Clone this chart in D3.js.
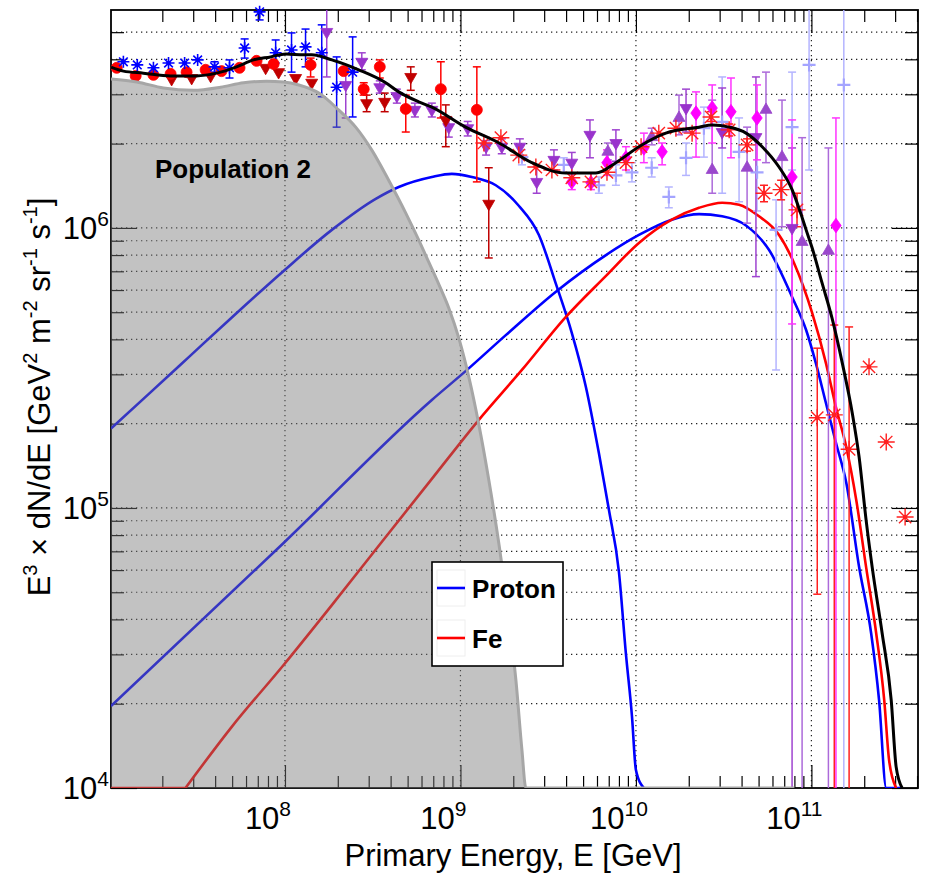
<!DOCTYPE html>
<html><head><meta charset="utf-8">
<script src="https://cdn.jsdelivr.net/npm/d3@7"></script>
<style>
body{margin:0;background:#fff}
svg{display:block}
text{font-family:"Liberation Sans",Arial,Helvetica,sans-serif;white-space:pre}
</style>
</head><body>
<svg id="chart" width="925" height="874"></svg>
<script>
// ---------- model curves (energy in GeV, E^3 dN/dE) ----------
const pop2E = [1.02e7,1.43e7,2.03e7,3.01e7,4.30e7,5.81e7,7.85e7,9.82e7,1.20e8,1.56e8,2.02e8,2.53e8,3.12e8,3.90e8,4.88e8,5.78e8,6.59e8,7.52e8,8.58e8,9.79e8,1.12e9,1.27e9,1.45e9,1.66e9,1.89e9,2.07e9,2.24e9,2.36e9,2.40e9,8.0e10];
const pop2V = [3.40e6,3.32e6,3.16e6,3.10e6,3.18e6,3.30e6,3.34e6,3.32e6,3.24e6,3.03e6,2.64e6,2.29e6,1.90e6,1.48e6,1.13e6,9.06e5,7.56e5,6.30e5,5.18e5,4.04e5,2.91e5,2.00e5,1.26e5,7.37e4,3.98e4,2.43e4,1.37e4,1.0e4,5e3,5e3];

const protonAE = [1.02e7,1.67e7,2.82e7,4.96e7,9.82e7,1.85e8,3.29e8,4.45e8,6.87e8,8.93e8,1.16e9,1.59e9,2.15e9,2.80e9,3.50e9,4.31e9,5.19e9,6.15e9,7.02e9,8.00e9,8.77e9,9.49e9,1.00e10,1.11e10];
const protonAV = [1.92e5,2.55e5,3.45e5,4.78e5,7.02e5,9.84e5,1.27e6,1.40e6,1.52e6,1.56e6,1.52e6,1.42e6,1.20e6,9.44e5,6.31e5,4.22e5,2.70e5,1.57e5,9.83e4,5.91e4,3.01e4,1.81e4,1.16e4,1.0e4];

const protonBE = [1.02e7,9.82e7,6.87e8,1.07e9,1.82e9,3.50e9,6.75e9,1.04e10,1.60e10,2.29e10,3.10e10,4.24e10,5.74e10,7.76e10,9.33e10,1.06e11,1.21e11,1.38e11,1.58e11,1.87e11,2.19e11,2.43e11,2.67e11,2.72e11,3.25e11];
const protonBV = [1.96e4,7.50e4,2.43e5,3.08e5,4.15e5,5.92e5,8.00e5,9.44e5,1.07e6,1.12e6,1.10e6,1.02e6,8.34e5,5.67e5,4.32e5,3.29e5,2.37e5,1.71e5,1.23e5,6.15e4,3.57e4,2.06e4,1.0e4,5e3,5e3];

const ironE = [1.02e7,2.65e7,2.71e7,4.96e7,9.82e7,1.85e8,3.56e8,6.87e8,1.27e9,2.24e9,3.99e9,6.75e9,1.04e10,1.60e10,2.29e10,3.10e10,3.87e10,5.03e10,6.54e10,7.96e10,1.01e11,1.21e11,1.38e11,1.58e11,1.80e11,2.05e11,2.34e11,2.60e11,2.77e11,3.04e11];
const ironV = [5e3,5e3,1.0e4,1.65e4,2.75e4,4.50e4,7.56e4,1.27e5,2.06e5,3.11e5,4.81e5,6.74e5,8.84e5,1.07e6,1.18e6,1.23e6,1.21e6,1.10e6,9.44e5,7.50e5,4.97e5,3.29e5,2.29e5,1.65e5,1.07e5,6.15e4,3.57e4,2.06e4,1.26e4,1.0e4];

const totalE = [1.02e7,1.20e7,1.56e7,2.23e7,3.13e7,4.08e7,5.30e7,6.62e7,8.28e7,1.01e8,1.28e8,1.42e8,1.85e8,2.63e8,3.75e8,4.45e8,5.78e8,6.87e8,1.07e9,1.66e9,2.55e9,3.99e9,5.92e9,7.69e9,1.04e10,1.48e10,2.29e10,2.72e10,3.40e10,4.24e10,5.24e10,6.54e10,7.76e10,8.85e10,9.33e10,1.01e11,1.15e11,1.31e11,1.50e11,1.71e11,1.87e11,2.05e11,2.22e11,2.53e11,2.85e11,3.04e11,3.29e11];
const totalV = [3.75e6,3.63e6,3.57e6,3.49e6,3.49e6,3.57e6,3.76e6,3.98e6,4.08e6,4.18e6,4.15e6,4.15e6,3.98e6,3.67e6,3.30e6,3.06e6,2.82e6,2.70e6,2.29e6,2.01e6,1.71e6,1.57e6,1.57e6,1.71e6,1.95e6,2.18e6,2.29e6,2.33e6,2.29e6,2.18e6,1.95e6,1.65e6,1.37e6,1.09e6,9.84e5,8.48e5,6.36e5,4.77e5,3.29e5,2.18e5,1.52e5,9.05e4,6.15e4,3.57e4,2.06e4,1.19e4,1.0e4];

// ---------- measurements: energy, value, upper and lower error ----------
const blueStarE  = [1.20e7,1.44e7,1.78e7,2.17e7,2.68e7,3.18e7,3.97e7,4.83e7,5.89e7,7.17e7,8.85e7,1.09e8,1.31e8,1.62e8,1.97e8,2.43e8];
const blueStarV  = [3.92e6,3.82e6,3.73e6,3.88e6,3.88e6,3.98e6,3.76e6,3.73e6,4.39e6,5.91e6,4.22e6,4.32e6,4.43e6,4.22e6,3.18e6,3.60e6];
const blueStarHi = [3.92e6,3.82e6,3.73e6,3.88e6,3.88e6,3.98e6,3.92e6,3.98e6,4.73e6,6.3e6,4.69e6,4.97e6,5.13e6,5.31e6,4.08e6,4.81e6];
const blueStarLo = [3.92e6,3.82e6,3.73e6,3.88e6,3.88e6,3.98e6,3.60e6,3.43e6,4.04e6,5.53e6,3.88e6,3.60e6,3.76e6,2.94e6,2.29e6,2.49e6];

const redDotE  = [1.10e7,1.41e7,1.78e7,2.23e7,2.75e7,3.53e7,4.35e7,5.51e7,6.89e7,8.62e7,1.40e8,2.16e8,2.81e8,3.47e8,4.88e8,7.73e8,1.24e9];
const redDotV  = [3.73e6,3.49e6,3.52e6,3.55e6,3.60e6,3.67e6,3.63e6,3.73e6,3.95e6,3.85e6,3.82e6,3.63e6,3.13e6,3.76e6,2.66e6,3.13e6,2.64e6];
const redDotHi = [3.73e6,3.49e6,3.52e6,3.55e6,3.60e6,3.67e6,3.63e6,3.73e6,3.95e6,3.85e6,4.04e6,3.63e6,3.30e6,3.98e6,2.98e6,3.92e6,3.76e6];
const redDotLo = [3.73e6,3.49e6,3.52e6,3.55e6,3.60e6,3.67e6,3.63e6,3.73e6,3.95e6,3.85e6,3.46e6,3.63e6,2.98e6,3.43e6,2.20e6,2.47e6,1.46e6];

const darkTriE  = [2.26e7,2.94e7,3.77e7,7.76e7,9.20e7,1.15e8,1.42e8,2.92e8,3.70e8,5.21e8,8.25e8,1.45e9];
const darkTriV  = [3.40e6,3.43e6,3.49e6,3.73e6,3.60e6,3.43e6,3.30e6,2.79e6,2.82e6,3.46e6,2.43e6,1.22e6];
const darkTriHi = [3.40e6,3.43e6,3.49e6,3.73e6,3.60e6,3.43e6,3.30e6,2.98e6,3.03e6,3.76e6,2.75e6,1.64e6];
const darkTriLo = [3.40e6,3.43e6,3.49e6,3.73e6,3.60e6,3.43e6,3.30e6,2.60e6,2.60e6,3.10e6,1.95e6,7.81e5];

const violetDownE  = [1.73e8,2.22e8,2.74e8,3.47e8,4.34e8,5.50e8,6.87e8,8.58e8,1.10e9,1.40e9,1.72e9,2.18e9,2.72e9,3.41e9,4.31e9,5.47e9,7.69e9,1.93e10,3.10e10,4.83e10,7.76e10];
const violetDownV  = [5.01e6,3.24e6,3.92e6,3.18e6,2.96e6,2.64e6,2.64e6,2.29e6,2.27e6,1.95e6,1.95e6,1.95e6,1.46e6,1.75e6,1.71e6,2.15e6,2.01e6,2.68e6,2.20e6,2.11e6,1.00e6];
const violetDownHi = [6.5e6,3.76e6,4.22e6,3.35e6,3.13e6,2.79e6,2.79e6,2.47e6,2.40e6,2.05e6,2.08e6,2.08e6,1.65e6,1.90e6,1.86e6,2.43e6,2.24e6,3.13e6,3.16e6,3.46e6,1.93e6];
const violetDownLo = [3.46e6,2.47e6,3.67e6,3.03e6,2.79e6,2.49e6,2.49e6,2.11e6,2.13e6,1.82e6,1.84e6,1.82e6,1.33e6,1.61e6,1.56e6,1.78e6,1.73e6,2.20e6,1.93e6,6.7e5,5e3];

const violetUpE  = [6.92e9,1.23e10,1.76e10,2.72e10,4.30e10,5.51e10,6.80e10,8.85e10,1.25e11];
const violetUpV  = [1.87e6,2.11e6,2.47e6,1.61e6,1.64e6,2.64e6,1.79e6,8.91e5,8.28e5];
const violetUpHi = [2.01e6,2.27e6,2.98e6,2.86e6,2.29e6,3.60e6,2.86e6,2.10e6,1.93e6];
const violetUpLo = [1.75e6,1.98e6,2.15e6,1.33e6,1.04e6,1.71e6,1.01e6,5e3,5e3];

const magentaE  = [4.31e9,5.54e9,6.84e9,8.77e9,1.11e10,1.41e10,2.20e10,2.72e10,3.48e10,4.90e10,7.76e10,1.38e11];
const magentaV  = [1.46e6,1.45e6,1.71e6,1.78e6,1.93e6,1.87e6,2.57e6,2.68e6,2.60e6,2.47e6,1.52e6,1.02e6];
const magentaHi = [1.57e6,1.57e6,1.90e6,1.95e6,2.18e6,2.01e6,3.06e6,3.24e6,3.43e6,3.24e6,2.43e6,2.47e6];
const magentaLo = [1.37e6,1.37e6,1.54e6,1.61e6,1.71e6,1.68e6,1.79e6,2.01e6,1.78e6,1.75e6,4.54e5,5e3];

const lilacE  = [2.24e9,3.88e9,6.15e9,7.69e9,9.49e9,1.23e10,1.54e10,1.93e10,2.44e10,3.10e10,3.87e10,4.90e10,6.29e10,7.76e10,9.70e10,1.53e11];
const lilacV  = [1.79e6,1.68e6,1.42e6,1.54e6,1.58e6,1.64e6,1.29e6,1.78e6,2.27e6,2.39e6,1.87e6,1.58e6,9.84e5,2.29e6,3.82e6,3.24e6];
const lilacHi = [1.90e6,1.78e6,1.52e6,1.68e6,1.71e6,1.78e6,1.40e6,2.01e6,2.70e6,3.46e6,2.47e6,1.98e6,1.26e6,3.60e6,7e6,7e6];
const lilacLo = [1.68e6,1.58e6,1.33e6,1.42e6,1.46e6,1.52e6,1.18e6,1.54e6,1.79e6,1.33e6,1.24e6,1.15e6,3.11e5,1.61e6,1.61e6,5e3];

const redStarE  = [1.36e9,1.70e9,2.15e9,2.69e9,3.32e9,4.31e9,5.54e9,6.84e9,8.77e9,1.07e10,1.35e10,1.69e10,2.09e10,2.68e10,3.40e10,4.30e10,5.37e10,6.72e10,8.28e10,1.08e11,1.35e11,1.64e11,2.13e11,2.67e11,3.42e11];
const redStarV  = [2.01e6,2.10e6,1.82e6,1.65e6,1.61e6,1.51e6,1.46e6,1.58e6,1.71e6,1.95e6,2.18e6,2.27e6,2.18e6,2.49e6,2.24e6,1.98e6,1.33e6,1.37e6,1.16e6,2.10e5,2.15e5,1.62e5,3.19e5,1.72e5,9.28e4];
const redStarHi = [2.01e6,2.10e6,1.82e6,1.65e6,1.61e6,1.51e6,1.46e6,1.58e6,1.71e6,1.95e6,2.18e6,2.27e6,2.18e6,2.60e6,2.35e6,2.08e6,1.42e6,1.48e6,1.33e6,3.72e5,4.50e5,4.43e5,3.19e5,1.72e5,9.28e4];
const redStarLo = [2.01e6,2.10e6,1.82e6,1.65e6,1.61e6,1.51e6,1.46e6,1.58e6,1.71e6,1.95e6,2.18e6,2.27e6,2.18e6,2.40e6,2.13e6,1.88e6,1.24e6,1.26e6,1.01e6,4.92e4,5e3,5e3,3.19e5,1.72e5,9.28e4];

// ---------- axes ----------
const xMajorTicks = [1e8,1e9,1e10,1e11];
const yMajorTicks = [1e4,1e5,1e6];
const legendLabels = ["Proton","Fe"];

const svg = d3.select("#chart");
const L = 111, R = 918, T = 10, B = 788;
const x = d3.scaleLog().domain([1.02e7, 4.05e11]).range([L, R]);
const y = d3.scaleLog().domain([1e4, 6e6]).range([B, T]).clamp(true);

const xMinor = [], yMinor = [];
for (let k = 7; k <= 11; k++) for (let m = 2; m <= 9; m++) {
  const v = m * Math.pow(10, k);
  if (v > x.domain()[0] && v < x.domain()[1]) xMinor.push(v);
}
for (let k = 4; k <= 6; k++) for (let m = 2; m <= 9; m++) {
  const v = m * Math.pow(10, k);
  if (v < y.domain()[1]) yMinor.push(v);
}

const defs = svg.append("defs");
defs.append("clipPath").attr("id", "plotclip")
  .append("rect").attr("x", L).attr("y", T).attr("width", R - L).attr("height", B - T);

// dotted grid
const grid = svg.append("g").attr("stroke", "#222").attr("stroke-width", 1.2).attr("stroke-dasharray", "1.3 3.7");
grid.selectAll("line.h").data(yMinor.concat(yMajorTicks.slice(1))).join("line")
  .attr("x1", L).attr("x2", R).attr("y1", d => y(d)).attr("y2", d => y(d));
grid.selectAll("line.v").data(xMajorTicks).join("line")
  .attr("y1", T).attr("y2", B).attr("x1", d => x(d)).attr("x2", d => x(d));

// tick marks on all four sides
function ticks(axis, transform) {
  svg.append("g").attr("transform", transform).call(axis)
    .call(g => g.select(".domain").remove())
    .call(g => g.selectAll("text").remove())
    .call(g => g.selectAll("line").attr("stroke", "#000").attr("stroke-width", 1.2));
}
ticks(d3.axisBottom(x).tickValues(xMinor).tickSize(-12), `translate(0,${B})`);
ticks(d3.axisBottom(x).tickValues(xMajorTicks).tickSize(-23), `translate(0,${B})`);
ticks(d3.axisTop(x).tickValues(xMinor).tickSize(-12), `translate(0,${T})`);
ticks(d3.axisTop(x).tickValues(xMajorTicks).tickSize(-23), `translate(0,${T})`);
ticks(d3.axisLeft(y).tickValues(yMinor).tickSize(-13), `translate(${L},0)`);
ticks(d3.axisLeft(y).tickValues(yMajorTicks).tickSize(-26), `translate(${L},0)`);
ticks(d3.axisRight(y).tickValues(yMinor).tickSize(-13), `translate(${R},0)`);
ticks(d3.axisRight(y).tickValues(yMajorTicks).tickSize(-26), `translate(${R},0)`);

svg.append("rect").attr("x", L).attr("y", T).attr("width", R - L).attr("height", B - T)
  .attr("fill", "none").attr("stroke", "#000").attr("stroke-width", 1.8);

// ---------- model curves ----------
const zip = (E, V) => E.map((e, i) => [e, V[i]]);
const line = d3.line().x(d => x(d[0])).y(d => y(d[1])).curve(d3.curveMonotoneX);
const straight = d3.line().x(d => x(d[0])).y(d => y(d[1]));
const plot = svg.append("g").attr("clip-path", "url(#plotclip)");

plot.append("path").attr("d", line(zip(protonAE, protonAV))).attr("fill", "none").attr("stroke", "#0000ff").attr("stroke-width", 2.6);
plot.append("path").attr("d", line(zip(protonBE, protonBV))).attr("fill", "none").attr("stroke", "#0000ff").attr("stroke-width", 2.6);
// iron: flat underflow along the axis, then the power-law rise and cutoff
const iron = zip(ironE, ironV);
plot.append("path").attr("d", straight(iron.slice(0, 3)) + line(iron.slice(2)).replace(/^M/, "L"))
  .attr("fill", "none").attr("stroke", "#ff0000").attr("stroke-width", 2.6);

// ---------- measurements ----------
const sym = {
  star: s => { const a = s * 0.72; return `M${-s},0H${s}M0,${-s}V${s}M${-a},${-a}L${a},${a}M${-a},${a}L${a},${-a}`; },
  plus: s => `M${-s},0H${s}M0,${-s}V${s}`,
  tdown: s => `M${-s},${-s * 0.58}L${s},${-s * 0.58}L0,${s * 1.15}Z`,
  tup: s => `M${-s},${s * 0.58}L${s},${s * 0.58}L0,${-s * 1.15}Z`,
  diamond: s => `M0,${-s * 1.4}L${s},0L0,${s * 1.4}L${-s},0Z`,
  circle: s => `M${-s},0A${s},${s} 0 1,0 ${s},0A${s},${s} 0 1,0 ${-s},0Z`
};
const seriesTable = [
  {E: lilacE, V: lilacV, hi: lilacHi, lo: lilacLo, shape: "plus", size: 6.5, color: "#a4a4ff", bar: "#b4b4ff", stroke: 2.2},
  {E: violetUpE, V: violetUpV, hi: violetUpHi, lo: violetUpLo, shape: "tup", size: 6, color: "#9a48cc", bar: "#ac6ada"},
  {E: violetDownE, V: violetDownV, hi: violetDownHi, lo: violetDownLo, shape: "tdown", size: 6, color: "#9933cc", bar: "#9f44d0"},
  {E: magentaE, V: magentaV, hi: magentaHi, lo: magentaLo, shape: "diamond", size: 5.2, color: "#ff00ff", bar: "#ff33ff"},
  {E: darkTriE, V: darkTriV, hi: darkTriHi, lo: darkTriLo, shape: "tdown", size: 6, color: "#c00000", bar: "#c00000"},
  {E: redDotE, V: redDotV, hi: redDotHi, lo: redDotLo, shape: "circle", size: 5.5, color: "#ff0000", bar: "#ff0000"},
  {E: blueStarE, V: blueStarV, hi: blueStarHi, lo: blueStarLo, shape: "star", size: 6, color: "#0000ff", bar: "#0000ff", stroke: 1.6, dot: 2.3},
  {E: redStarE, V: redStarV, hi: redStarHi, lo: redStarLo, shape: "star", size: 8.5, color: "#ff2020", bar: "#ff2020", stroke: 1.4, dot: 2.3}
];

const bars = svg.append("g").attr("clip-path", "url(#plotclip)");
const marks = svg.append("g");
seriesTable.forEach(s => {
  const pts = s.E.map((e, i) => ({e, v: s.V[i], hi: s.hi[i], lo: s.lo[i]}));
  const withBar = pts.filter(p => Math.abs(y(p.lo) - y(p.hi)) > 3);
  const g = bars.append("g").attr("stroke", s.bar).attr("stroke-width", 1.5);
  g.selectAll("line.err").data(withBar).join("line")
    .attr("x1", p => x(p.e)).attr("x2", p => x(p.e))
    .attr("y1", p => y(p.hi)).attr("y2", p => y(p.lo));
  g.selectAll("line.cap-hi").data(withBar.filter(p => p.hi < y.domain()[1])).join("line")
    .attr("x1", p => x(p.e) - 4).attr("x2", p => x(p.e) + 4)
    .attr("y1", p => y(p.hi)).attr("y2", p => y(p.hi));
  g.selectAll("line.cap-lo").data(withBar.filter(p => p.lo > y.domain()[0])).join("line")
    .attr("x1", p => x(p.e) - 4).attr("x2", p => x(p.e) + 4)
    .attr("y1", p => y(p.lo)).attr("y2", p => y(p.lo));

  const open = s.shape === "star" || s.shape === "plus";
  const m = marks.append("g");
  m.selectAll("path").data(pts).join("path")
    .attr("transform", p => `translate(${x(p.e)},${y(p.v)})`)
    .attr("d", sym[s.shape](s.size))
    .attr("fill", open ? "none" : s.color)
    .attr("stroke", s.color)
    .attr("stroke-width", open ? (s.stroke || 1.5) : 0.8);
  if (s.dot) {
    m.selectAll("circle").data(pts).join("circle")
      .attr("cx", p => x(p.e)).attr("cy", p => y(p.v)).attr("r", s.dot).attr("fill", s.color);
  }
});

// ---------- population 2 component (translucent grey area over the curves) ----------
const pop2 = zip(pop2E, pop2V);
const area = d3.area().x(d => x(d[0])).y0(B).y1(d => y(d[1])).curve(d3.curveMonotoneX);
svg.append("g").attr("clip-path", "url(#plotclip)")
  .append("path").attr("d", area(pop2)).attr("fill", "#777").attr("fill-opacity", 0.45);
svg.append("g").attr("clip-path", "url(#plotclip)")
  .append("path").attr("d", line(pop2)).attr("fill", "none").attr("stroke", "#a6a6a6").attr("stroke-width", 3);

// total flux
svg.append("g").attr("clip-path", "url(#plotclip)")
  .append("path").attr("d", line(zip(totalE, totalV))).attr("fill", "none").attr("stroke", "#000").attr("stroke-width", 3);

// ---------- labels ----------
svg.append("text").attr("x", 155).attr("y", 178).style("font-size", "26px").style("font-weight", "bold")
  .text("Population 2");

const xl = svg.append("g").selectAll("text").data(xMajorTicks).join("text")
  .attr("x", d => x(d) - 17).attr("y", 829).attr("text-anchor", "middle").style("font-size", "31px");
xl.append("tspan").text("10");
xl.append("tspan").attr("dy", -13).style("font-size", "21px").text(d => Math.round(Math.log10(d)));

const yl = svg.append("g").selectAll("text").data(yMajorTicks).join("text")
  .attr("x", 109).attr("y", d => y(d) + 11).attr("text-anchor", "end").style("font-size", "31px");
yl.append("tspan").text("10");
yl.append("tspan").attr("dy", -13).style("font-size", "21px").text(d => Math.round(Math.log10(d)));

svg.append("text").attr("x", 513).attr("y", 866).attr("text-anchor", "middle").style("font-size", "31px")
  .text("Primary Energy, E [GeV]");

const yt = svg.append("text").attr("transform", "translate(50,397) rotate(-90)")
  .attr("text-anchor", "middle").style("font-size", "31px");
[["E", 0], ["3", 1], [" × dN/dE [GeV", 0], ["2", 1], [" m", 0], ["-2", 1], [" sr", 0], ["-1", 1], [" s", 0], ["-1", 1], ["]", 0]]
  .reduce((prevSup, [t, sup]) => {
    const ts = yt.append("tspan").text(t);
    if (sup && !prevSup) ts.attr("dy", -13).style("font-size", "20px");
    else if (!sup && prevSup) ts.attr("dy", 13);
    return sup;
  }, 0);

// ---------- legend ----------
const lg = svg.append("g");
lg.append("rect").attr("x", 432).attr("y", 562).attr("width", 131).attr("height", 104)
  .attr("fill", "#fff").attr("stroke", "#000").attr("stroke-width", 1.6);
const legendColors = ["#0000ff", "#ff0000"];
legendLabels.forEach((lab, i) => {
  const cy = 588 + i * 50;
  lg.append("rect").attr("x", 437).attr("y", cy - 18).attr("width", 28).attr("height", 36)
    .attr("fill", "none").attr("stroke", "#eeeeee").attr("stroke-width", 1);
  lg.append("line").attr("x1", 437).attr("x2", 465).attr("y1", cy).attr("y2", cy)
    .attr("stroke", legendColors[i]).attr("stroke-width", 2.6);
  lg.append("text").attr("x", 472).attr("y", cy + 10).style("font-size", "26px").style("font-weight", "bold").text(lab);
});
</script>
</body></html>
